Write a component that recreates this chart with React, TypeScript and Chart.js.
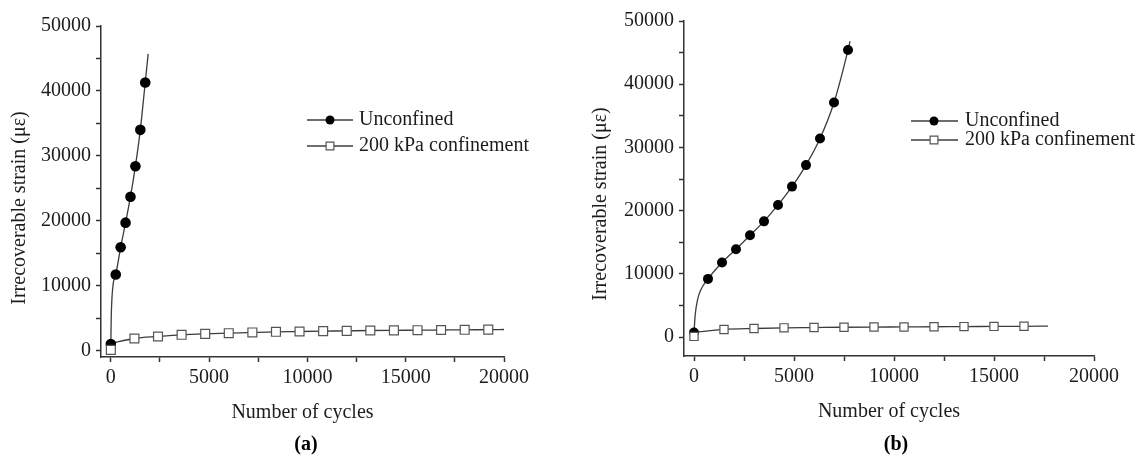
import React, { useEffect, useRef } from 'react';
import { Chart, registerables } from 'chart.js';

Chart.register(...registerables);

// ---------- text ----------
const seriesNames = ['Unconfined', '200 kPa confinement'];
const yAxisTitle = 'Irrecoverable strain (με)';
const xAxisTitle = 'Number of cycles';
const panelLabels = ['(a)', '(b)'];

// ---------- panel (a) ----------
const unconfinedCyclesA = [0, 250, 500, 750, 1000, 1250, 1500, 1750];
const unconfinedStrainA = [1000, 11700, 15900, 19700, 23700, 28400, 34000, 41300];
const unconfinedFitCyclesA = [0, 20, 50, 120, 250, 500, 750, 1000, 1250, 1500, 1750, 1900];
const unconfinedFitStrainA = [1000, 5000, 7700, 10300, 11700, 15900, 19700, 23700, 28400, 34000, 41300, 45700];

const confinedCyclesA = [0, 1200, 2400, 3600, 4800, 6000, 7200, 8400, 9600, 10800, 12000, 13200, 14400, 15600, 16800, 18000, 19200];
const confinedStrainA = [100, 1850, 2160, 2420, 2570, 2670, 2780, 2880, 2930, 2980, 3030, 3080, 3110, 3130, 3160, 3190, 3210];
const confinedFitCyclesA = [0, 1200, 2400, 3600, 4800, 6000, 7200, 8400, 9600, 10800, 12000, 13200, 14400, 15600, 16800, 18000, 19200, 20000];
const confinedFitStrainA = [1100, 1850, 2160, 2420, 2570, 2670, 2780, 2880, 2930, 2980, 3030, 3080, 3110, 3130, 3160, 3190, 3210, 3240];

// ---------- panel (b) ----------
const unconfinedCyclesB = [0, 700, 1400, 2100, 2800, 3500, 4200, 4900, 5600, 6300, 7000, 7700];
const unconfinedStrainB = [700, 9200, 11800, 13900, 16100, 18300, 20900, 23800, 27200, 31400, 37100, 45400];
const unconfinedFitCyclesB = [0, 60, 170, 330, 700, 1400, 2100, 2800, 3500, 4200, 4900, 5600, 6300, 7000, 7700, 7800];
const unconfinedFitStrainB = [700, 3500, 5800, 7400, 9200, 11800, 13900, 16100, 18300, 20900, 23800, 27200, 31400, 37100, 45400, 46800];

const confinedCyclesB = [0, 1500, 3000, 4500, 6000, 7500, 9000, 10500, 12000, 13500, 15000, 16500];
const confinedStrainB = [100, 1200, 1350, 1450, 1500, 1550, 1580, 1600, 1630, 1650, 1680, 1700];
const confinedFitCyclesB = [0, 1500, 3000, 4500, 6000, 7500, 9000, 10500, 12000, 13500, 15000, 16500, 17700];
const confinedFitStrainB = [750, 1200, 1350, 1450, 1500, 1550, 1580, 1600, 1630, 1650, 1680, 1700, 1740];

// ---------- axis ranges / ticks ----------
const xRange = [-500, 20000];
const yRangeA = [-1000, 50000];
const yRangeB = [-3000, 50000];
const xTickValues = [0, 2500, 5000, 7500, 10000, 12500, 15000, 17500, 20000];
const xTickLabels = [0, 5000, 10000, 15000, 20000];
const yTickValues = [0, 5000, 10000, 15000, 20000, 25000, 30000, 35000, 40000, 45000, 50000];
const yTickLabels = [0, 10000, 20000, 30000, 40000, 50000];

const FONT = '"Liberation Serif", "Times New Roman", Times, serif';
const TEXT = '#1c1c1c';
const AXIS = '#333333';
const CURVE = '#3c3c3c';

type PanelCfg = {
  left: number;
  label: string;
  uX: number[]; uY: number[]; ufX: number[]; ufY: number[];
  cX: number[]; cY: number[]; cfX: number[]; cfY: number[];
  yRange: number[];
  padding: { left: number; right: number; top: number; bottom: number };
  circleR: number; rectR: number;
  yTitleX: number; yTitleY: number;
  labelX: number; labelY: number;
  leg: { x0: number; x1: number; mx: number; tx: number; ys: number[] };
};

const toPts = (xs: number[], ys: number[]) => xs.map((x, i) => ({ x, y: ys[i] }));

function Panel({ cfg }: { cfg: PanelCfg }) {
  const ref = useRef<HTMLCanvasElement>(null);
  useEffect(() => {
    const canvas = ref.current!;
    const drawCircle = (c: CanvasRenderingContext2D, x: number, y: number, r: number) => {
      c.beginPath();
      c.arc(x, y, r, 0, Math.PI * 2);
      c.fillStyle = '#000';
      c.fill();
    };
    const drawSquare = (c: CanvasRenderingContext2D, x: number, y: number, r: number) => {
      const h = Math.SQRT1_2 * r;
      c.beginPath();
      c.rect(x - h, y - h, 2 * h, 2 * h);
      c.fillStyle = '#fff';
      c.fill();
      c.lineWidth = 1.2;
      c.strokeStyle = '#555';
      c.stroke();
    };
    const annot = {
      id: 'annot',
      afterDraw(chart: any) {
        const c: CanvasRenderingContext2D = chart.ctx;
        c.save();
        c.fillStyle = TEXT;
        c.font = `20px ${FONT}`;
        c.textAlign = 'center';
        c.textBaseline = 'middle';
        c.translate(cfg.yTitleX, cfg.yTitleY);
        c.rotate(-Math.PI / 2);
        c.fillText(yAxisTitle, 0, 0);
        c.restore();

        c.save();
        c.fillStyle = '#000';
        c.font = `bold 20px ${FONT}`;
        c.textAlign = 'center';
        c.textBaseline = 'middle';
        c.fillText(cfg.label, cfg.labelX, cfg.labelY);
        c.restore();

        const L = cfg.leg;
        seriesNames.forEach((name, i) => {
          const y = L.ys[i];
          c.save();
          c.beginPath();
          c.moveTo(L.x0, y);
          c.lineTo(L.x1, y);
          c.lineWidth = 1.3;
          c.strokeStyle = CURVE;
          c.stroke();
          if (i === 0) drawCircle(c, L.mx, y, 4.5);
          else drawSquare(c, L.mx, y, 5.5);
          c.fillStyle = TEXT;
          c.font = `20px ${FONT}`;
          c.textAlign = 'left';
          c.textBaseline = 'middle';
          c.fillText(name, L.tx, y);
          c.restore();
        });
      },
    };

    const chart = new Chart(canvas, {
      type: 'scatter',
      data: {
        datasets: [
          {
            label: seriesNames[0],
            data: toPts(cfg.uX, cfg.uY),
            pointStyle: 'circle',
            pointRadius: cfg.circleR,
            backgroundColor: '#000',
            borderColor: '#000',
            borderWidth: 0,
            showLine: false,
            clip: false,
            order: 1,
          },
          {
            label: seriesNames[1],
            data: toPts(cfg.cX, cfg.cY),
            pointStyle: 'rect',
            pointRadius: cfg.rectR,
            backgroundColor: '#fff',
            borderColor: '#555',
            borderWidth: 1.2,
            showLine: false,
            clip: false,
            order: 0,
          },
          {
            label: 'fit-u',
            data: toPts(cfg.ufX, cfg.ufY),
            showLine: true,
            pointRadius: 0,
            borderColor: CURVE,
            borderWidth: 1.3,
            cubicInterpolationMode: 'monotone',
            clip: false,
            order: 2,
          },
          {
            label: 'fit-c',
            data: toPts(cfg.cfX, cfg.cfY),
            showLine: true,
            pointRadius: 0,
            borderColor: CURVE,
            borderWidth: 1.3,
            cubicInterpolationMode: 'monotone',
            clip: false,
            order: 3,
          },
        ] as any,
      },
      options: {
        responsive: false,
        animation: false,
        events: [],
        layout: { padding: cfg.padding },
        plugins: {
          legend: { display: false },
          tooltip: { enabled: false },
        },
        scales: {
          x: {
            type: 'linear',
            min: xRange[0],
            max: xRange[1],
            afterBuildTicks: (s: any) => { s.ticks = xTickValues.map((value) => ({ value })); },
            afterFit: (s: any) => { s.height = 70; },
            ticks: {
              autoSkip: false,
              maxRotation: 0,
              padding: 4,
              color: TEXT,
              font: { family: FONT, size: 20 },
              callback: (v: any) => (xTickLabels.includes(Number(v)) ? String(v) : ''),
            },
            grid: { drawOnChartArea: false, drawTicks: true, tickLength: 5, tickColor: AXIS, tickWidth: 1.5 },
            border: { display: true, color: AXIS, width: 1.5 },
            title: {
              display: true,
              text: xAxisTitle,
              color: TEXT,
              font: { family: FONT, size: 20 },
              padding: { top: 0, bottom: 2 },
            },
          },
          y: {
            type: 'linear',
            min: cfg.yRange[0],
            max: cfg.yRange[1],
            afterBuildTicks: (s: any) => { s.ticks = yTickValues.map((value) => ({ value })); },
            afterFit: (s: any) => { s.width = 70; },
            ticks: {
              autoSkip: false,
              padding: 5,
              color: TEXT,
              font: { family: FONT, size: 20 },
              callback: (v: any) => (yTickLabels.includes(Number(v)) ? String(v) : ''),
            },
            grid: { drawOnChartArea: false, drawTicks: true, tickLength: 5, tickColor: AXIS, tickWidth: 1.5 },
            border: { display: true, color: AXIS, width: 1.5 },
          },
        },
      } as any,
      plugins: [annot],
    });
    return () => chart.destroy();
  }, []);
  return (
    <canvas
      ref={ref}
      width={574}
      height={459}
      style={{ position: 'absolute', left: cfg.left, top: 0, width: 574, height: 459 }}
    />
  );
}

const panelA: PanelCfg = {
  left: 0,
  label: panelLabels[0],
  uX: unconfinedCyclesA, uY: unconfinedStrainA, ufX: unconfinedFitCyclesA, ufY: unconfinedFitStrainA,
  cX: confinedCyclesA, cY: confinedStrainA, cfX: confinedFitCyclesA, cfY: confinedFitStrainA,
  yRange: yRangeA,
  padding: { left: 31, right: 70, top: 26, bottom: 32 },
  circleR: 5.3, rectR: 6.3,
  yTitleX: 20, yTitleY: 208,
  labelX: 306, labelY: 445,
  leg: { x0: 307, x1: 353, mx: 330, tx: 359, ys: [120, 146] },
};

const panelB: PanelCfg = {
  left: 574,
  label: panelLabels[1],
  uX: unconfinedCyclesB, uY: unconfinedStrainB, ufX: unconfinedFitCyclesB, ufY: unconfinedFitStrainB,
  cX: confinedCyclesB, cY: confinedStrainB, cfX: confinedFitCyclesB, cfY: confinedFitStrainB,
  yRange: yRangeB,
  padding: { left: 40, right: 54, top: 21, bottom: 33 },
  circleR: 5, rectR: 5.8,
  yTitleX: 27, yTitleY: 204,
  labelX: 322, labelY: 445,
  leg: { x0: 337, x1: 384, mx: 360, tx: 391, ys: [121, 140] },
};

export default function App() {
  return (
    <div style={{ position: 'absolute', left: 0, top: 0, width: 1148, height: 459, background: '#fff', overflow: 'hidden' }}>
      <Panel cfg={panelA} />
      <Panel cfg={panelB} />
    </div>
  );
}
